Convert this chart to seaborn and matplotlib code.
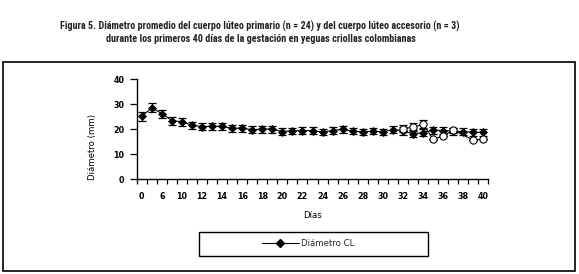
import numpy as np
import pandas as pd
import matplotlib
matplotlib.use("Agg")
import matplotlib.pyplot as plt
import seaborn as sns
from matplotlib.patches import Rectangle
from matplotlib.lines import Line2D
from matplotlib import font_manager

# ---------------- data ----------------
days = [0, 3, 6, 8, 10, 11, 12, 13, 14, 15, 16, 17, 18, 19, 20, 21, 22, 23, 24,
        25, 26, 27, 28, 29, 30, 31, 32, 33, 34, 35, 36, 37, 38, 39, 40]
cl_primario = [25.2, 28.6, 26.3, 23.5, 23.0, 21.6, 21.1, 21.2, 21.2, 20.4, 20.5,
               19.8, 20.1, 20.1, 19.1, 19.4, 19.5, 19.5, 18.9, 19.5, 20.0, 19.3,
               18.9, 19.3, 18.9, 19.9, 19.4, 18.2, 18.7, 19.7, 19.5, 19.3, 19.1,
               18.8, 18.8]
cl_primario_se = [1.7, 1.8, 1.6, 1.6, 1.6, 1.5, 1.4, 1.4, 1.4, 1.4, 1.4,
                  1.4, 1.4, 1.4, 1.3, 1.3, 1.3, 1.3, 1.3, 1.3, 1.4, 1.3,
                  1.3, 1.3, 1.3, 1.3, 1.5, 1.4, 1.4, 1.4, 1.4, 1.4, 1.3,
                  1.3, 1.3]
acc_days = [32, 33, 34, 35, 36, 37, 39, 40]
cl_accesorio = [20.3, 20.8, 22.0, 16.1, 17.2, 19.7, 15.7, 16.0]
cl_accesorio_se = [1.3, 1.6, 1.6, 0.0, 0.0, 1.0, 0.0, 0.0]

title1 = "Figura 5. Diámetro promedio del cuerpo lúteo primario (n = 24) y del cuerpo lúteo accesorio (n = 3)"
title2 = "durante los primeros 40 días de la gestación en yeguas criollas colombianas"

# ---------------- figure ----------------
sns.set_style("ticks")
plt.rcParams["font.family"] = ["DejaVu Sans"]

W, H = 579, 274
fig = plt.figure(figsize=(W / 100, H / 100), dpi=100)

def fx(px):
    return px / W

def fy(py):
    return 1 - py / H

ax_l, ax_r, ax_b, ax_t = 136.7, 488.3, 179.3, 79.3
ax = fig.add_axes([fx(ax_l), fy(ax_b), fx(ax_r - ax_l), (ax_b - ax_t) / H])

pos_index = {d: i for i, d in enumerate(days)}
df_p = pd.DataFrame({"pos": [pos_index[d] for d in days],
                     "diam": cl_primario, "se": cl_primario_se})
df_a = pd.DataFrame({"pos": [pos_index[d] for d in acc_days],
                     "diam": cl_accesorio, "se": cl_accesorio_se})

# primary CL
ax.errorbar(df_p["pos"], df_p["diam"], yerr=df_p["se"], fmt="none",
            ecolor="black", elinewidth=0.9, capsize=3.2, capthick=0.9, zorder=2)
sns.lineplot(data=df_p, x="pos", y="diam", color="black", marker="D",
             markersize=4.3, markeredgecolor="black", markeredgewidth=0.5,
             linewidth=0.8, ax=ax, zorder=3, legend=False, errorbar=None)

# accessory CL
ax.errorbar(df_a["pos"], df_a["diam"], yerr=df_a["se"], fmt="none",
            ecolor="black", elinewidth=0.9, capsize=3.2, capthick=0.9, zorder=4)
sns.lineplot(data=df_a, x="pos", y="diam", color="black", marker="o",
             markersize=5.2, markerfacecolor="white", markeredgecolor="black",
             markeredgewidth=0.8, linewidth=0.8, ax=ax, zorder=5, legend=False,
             errorbar=None)

# axes styling
ax.set_xlim(-0.5, len(days) - 0.5)
ax.set_ylim(0, 40)
ax.set_yticks([0, 10, 20, 30, 40])
ax.set_xticks(df_p["pos"][::2])
ax.set_xticklabels([str(d) for d in days[::2]])
ax.set_xticks(np.arange(-0.5, len(days), 1.0), minor=True)
ax.tick_params(axis="x", which="major", length=0, pad=9.5, labelsize=5.8,
               bottom=True)
ax.tick_params(axis="x", which="minor", length=3.6, width=0.9,
               direction="out", color="black", bottom=True)
ax.tick_params(axis="y", which="major", length=4.7, width=0.9, pad=4.3,
               labelsize=5.8, direction="out", color="black", left=True)
for lbl in ax.get_xticklabels() + ax.get_yticklabels():
    lbl.set_fontweight("bold")
    lbl.set_color("black")
for s in ["top", "right"]:
    ax.spines[s].set_visible(False)
for s in ["left", "bottom"]:
    ax.spines[s].set_color("black")
    ax.spines[s].set_linewidth(1.0)
ax.set_facecolor("white")

ax.set_xlabel("Días", fontsize=6.2, color="black", va="center")
ax.xaxis.set_label_coords(0.5, (ax_b - 215) / (ax_b - ax_t))
ax.set_ylabel("Diámetro (mm)", fontsize=6.2, color="black", va="center")
ax.yaxis.set_label_coords((92 - ax_l) / (ax_r - ax_l), (ax_b - 147) / (ax_b - ax_t))

# legend
handle = Line2D([], [], color="black", marker="D", markersize=4.3, linewidth=0.8)
fig.legend(handles=[handle], labels=["Diámetro CL"], loc="center",
           bbox_to_anchor=(fx(308), fy(244)), frameon=False, fontsize=6.2,
           handlelength=4.3, handletextpad=0.3, borderpad=0)
fig.patches.append(Rectangle((fx(199.3), fy(255.7)), fx(229), 23.4 / H,
                             transform=fig.transFigure, fill=False,
                             edgecolor="black", linewidth=1.0))

# outer frame
fig.patches.append(Rectangle((fx(2.7), fy(270.5)), fx(575.3 - 2.7),
                             (270.5 - 61.7) / H, transform=fig.transFigure,
                             fill=False, edgecolor="black", linewidth=1.2))

# title: pick a condensed-looking installed family
installed = {f.name for f in font_manager.fontManager.ttflist}
tfam = "DejaVu Sans"
for cand in ["Roboto Condensed", "Liberation Sans Narrow", "Lato", "Roboto"]:
    if cand in installed:
        tfam = cand
        break
t1 = fig.text(fx(260), fy(26), title1, ha="center", va="center",
              fontsize=7, fontweight="bold", family=tfam, color="#222222")
t2 = fig.text(fx(260.8), fy(39.3), title2, ha="center", va="center",
              fontsize=7, fontweight="bold", family=tfam, color="#222222")
fig.canvas.draw()
w = t1.get_window_extent().width
fs = 7 * 403 / w
t1.set_fontsize(fs)
t2.set_fontsize(fs)

fig.savefig("out.png", dpi=100, facecolor="white")
